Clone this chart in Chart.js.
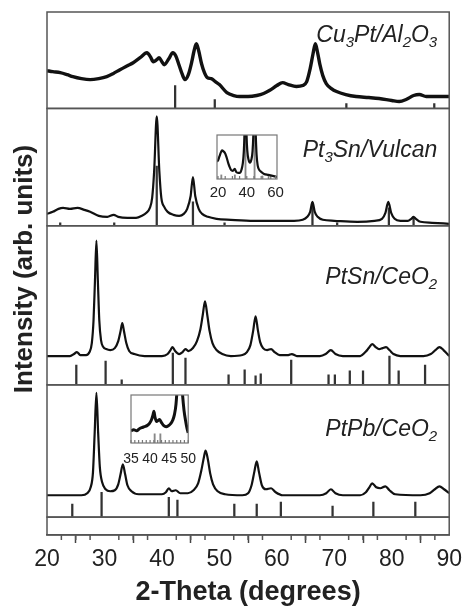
<!DOCTYPE html>
<html><head><meta charset="utf-8">
<script src="https://cdn.jsdelivr.net/npm/chart.js@4.4.1/dist/chart.umd.min.js"></script>
<style>
html,body{margin:0;padding:0;background:#fff;}
#wrap{position:relative;width:465px;height:609px;overflow:hidden;}
canvas{position:absolute;}
</style></head><body>
<div id="wrap">
<canvas id="main" width="465" height="609" style="left:0;top:0"></canvas>
<canvas id="ins1" width="100" height="92" style="left:195px;top:125px"></canvas>
<canvas id="ins2" width="95" height="95" style="left:110px;top:388px"></canvas>
</div>
<script>
// ---------------- DATA (2-Theta in degrees, intensity in arb. units) ----------------
const xTicks = [20, 30, 40, 50, 60, 70, 80, 90];

const cu3ptCurve = [[20,38],[21,37],[22.3,36],[23.5,34],[24.5,32],[26,30],[27.5,29],[29,30],[30.4,32],[31.5,35],[32.7,39],[34,43],[35,46],[36.2,51],[37.4,56],[38,52],[38.5,47],[39.1,49],[39.5,51],[40,47],[40.4,44],[41.2,50],[41.9,56],[42.4,53],[42.9,45],[43.5,35],[44,29],[44.6,34],[45.2,47],[45.6,58],[46,65],[46.4,58],[46.9,45],[47.4,36],[47.9,31],[48.6,30],[49.3,27],[50,24],[51.3,16],[52.5,13],[53.5,12],[55,12],[56.5,13],[57.7,15],[58.7,18],[60,23],[61,26],[62,24],[63.4,22],[64.5,23],[65.2,27],[65.8,40],[66.3,55],[66.7,65],[67.1,56],[67.5,44],[68,33],[68.6,25],[69.5,20],[70.4,17],[72,14],[73.8,12],[76,11],[77.8,10],[80,8],[81.3,7],[82.5,9],[83.8,13],[84.8,14],[86,12],[87,12],[88.5,12],[90,12]];
const cu3ptSticks = [[42.3,23],[49.2,9],[72.1,5],[87.4,5]];

const pt3snCurve = [[20,12],[21,14],[22,17],[22.8,18],[24,17],[25.3,18],[26.5,16],[27.5,14],[29,10],[30.5,9],[31.6,11],[32.4,9],[34,8],[35.5,8],[36.5,10],[37.3,13],[37.9,18],[38.3,28],[38.65,55],[39.1,110],[39.55,55],[39.9,28],[40.4,19],[41,14],[42,11],[43,10],[43.8,12],[44.4,17],[45.0,30],[45.4,49],[45.8,30],[46.4,17],[47,12],[48,9],[49.5,7],[52,6],[56,5],[60,5],[63,5],[64.5,6],[65.3,9],[65.8,14],[66.2,24],[66.6,14],[67.1,9],[68,6],[70,5],[74,4],[77,5],[78.3,7],[78.9,13],[79.4,24],[79.9,13],[80.5,7],[81.5,5],[82.8,5],[83.4,7],[83.8,9],[84.2,7],[85,4],[87,3],[90,2]];
const pt3snSticks = [[22.3,3],[31.7,3],[39.1,60],[45.4,24],[50.9,3],[66.2,20],[70.5,3],[79.5,18],[83.8,8]];

const ptsnCurve = [[20,29],[22,29],[24,29],[24.7,31],[25.2,33],[25.8,30],[26.8,30],[27.4,33],[27.8,42],[28.1,65],[28.35,105],[28.6,145],[28.85,105],[29.1,65],[29.4,45],[29.8,38],[30.3,36],[31,35],[31.8,37],[32.4,44],[32.8,54],[33.1,62],[33.4,54],[33.8,42],[34.3,34],[35.2,31],[37,29],[40,29],[41,31],[41.5,35],[41.85,38],[42.3,34],[43,31],[43.6,33],[44.1,36],[44.6,34],[45.4,37],[46.1,44],[46.7,56],[47.1,70],[47.5,84],[47.9,70],[48.3,54],[48.8,42],[49.5,35],[50.5,31],[52,29],[54,30],[54.8,33],[55.4,40],[55.9,55],[56.3,69],[56.7,55],[57.1,43],[57.6,37],[58.3,35],[59,36],[59.6,33],[60.5,30],[62,30],[62.6,31],[63.5,29],[67.5,29],[68.5,31],[69.4,35],[70.2,31],[71.5,29],[74.5,29],[75.4,33],[76,37],[76.6,41],[77.2,38],[77.8,36],[78.4,37],[79,38],[79.6,35],[80.3,31],[81.5,29],[85.5,29],[86.8,31],[87.6,35],[88.3,38],[89,35],[89.5,32],[90,29]];
const ptsnSticks = [[25.1,20],[30.2,24],[33.0,5],[41.9,32],[44.1,27],[51.6,10],[54.4,15],[56.3,9],[57.2,11],[62.5,25],[69.0,10],[70.1,10],[72.7,14],[75.0,14],[79.6,29],[81.2,14],[85.8,20]];

const ptpbCurve = [[20,22],[23,22],[26,22],[27,24],[27.6,30],[28,45],[28.3,85],[28.6,125],[28.9,85],[29.2,50],[29.6,35],[30.2,28],[31,26],[31.8,27],[32.4,33],[32.8,43],[33.2,53],[33.6,43],[34,32],[34.7,26],[36,23],[40,23],[40.7,25],[41.2,29],[41.7,26],[42.4,27],[43.2,24],[44.5,24],[45.5,27],[46.3,34],[46.9,48],[47.3,60],[47.6,67],[48,58],[48.4,44],[48.9,33],[49.7,26],[51,23],[54,22],[55,24],[55.6,32],[56.1,46],[56.5,56],[56.9,45],[57.4,32],[58.1,28],[59,29],[59.8,25],[61,22],[67.5,22],[68.6,24],[69.4,28],[70.2,24],[71.5,22],[74.5,22],[75.5,25],[76.1,30],[76.6,34],[77.3,30],[78.0,29],[78.9,31],[79.6,27],[80.6,23],[85,22],[86.6,24],[87.5,28],[88.3,31],[89.1,28],[90,24]];
const ptpbSticks = [[24.4,13],[29.5,25],[41.2,20],[42.7,17],[52.6,13],[56.5,13],[60.7,15],[69.7,11],[76.8,15],[84.1,15]];

// insets
const inset1Ticks = [20, 40, 60];
const inset1Curve = [[19.3,17],[20,18],[21,22],[22,26],[22.8,28],[23.8,27],[25,25],[26,21],[27,16],[28,12],[29,9],[30.3,8],[31.6,10],[32.6,7],[34,6],[35.3,6],[36.3,9],[37.2,15],[37.9,26],[38.4,45],[39.1,110],[39.8,45],[40.4,27],[41.2,19],[42.2,16],[43.2,19],[44,27],[44.6,45],[45.4,90],[46.2,45],[46.8,24],[47.6,13],[48.6,9],[50,7],[52,5],[55,4],[58,3],[61,2]];
const inset1Sticks = [[22.3,4],[31.7,4],[39.1,50],[45.4,50],[50.9,3],[56.5,3]];

const inset2Ticks = [35, 40, 45, 50];
const inset2Curve = [[35,12],[35.7,13],[36.5,12],[37.2,14],[37.8,15],[38.5,16],[39.2,17],[39.8,19],[40.4,23],[40.8,28],[41.0,31],[41.3,25],[41.7,21],[42.1,22],[42.5,23],[43,20],[43.6,17],[44.2,16],[44.8,17],[45.4,19],[45.9,22],[46.4,28],[46.8,38],[47.2,60],[47.6,90],[48.1,70],[48.5,48],[48.9,32],[49.3,22],[49.7,14],[50,10]];
const inset2Sticks = [[41.2,9],[42.7,9]];

// panel labels: [text, isSubscript]
const cu3ptLabel = [['Cu',0],['3',1],['Pt/Al',0],['2',1],['O',0],['3',1]];
const pt3snLabel = [['Pt',0],['3',1],['Sn/Vulcan',0]];
const ptsnLabel  = [['PtSn/CeO',0],['2',1]];
const ptpbLabel  = [['PtPb/CeO',0],['2',1]];

// ---------------- LAYOUT / STYLE ----------------
const FONT = '"Liberation Sans", Arial, Helvetica, sans-serif';
const panels = [
  {id:'y1', curve:cu3ptCurve, sticks:cu3ptSticks, label:cu3ptLabel, ymax:97,  lw:3.4, labelDy:30},
  {id:'y2', curve:pt3snCurve, sticks:pt3snSticks, label:pt3snLabel, ymax:118, lw:2.2, labelDy:49},
  {id:'y3', curve:ptsnCurve,  sticks:ptsnSticks,  label:ptsnLabel,  ymax:160, lw:2.2, labelDy:58},
  {id:'y4', curve:ptpbCurve,  sticks:ptpbSticks,  label:ptpbLabel,  ymax:133, lw:2.2, labelDy:51},
  {id:'y5', curve:null, sticks:null, label:null, ymax:18}
];

const toXY = arr => arr.map(([x, y]) => ({x, y}));

function drawLabel(ctx, segs, right, baseline) {
  const mainF = 'italic 23px ' + FONT, subF = 'italic 15px ' + FONT;
  const w = segs.map(([t, s]) => { ctx.font = s ? subF : mainF; return ctx.measureText(t).width; });
  let x = right - w.reduce((a, b) => a + b, 0);
  segs.forEach(([t, s], i) => { ctx.font = s ? subF : mainF; ctx.fillText(t, x, baseline + (s ? 5 : 0)); x += w[i]; });
}

const framePlugin = {
  id: 'frame',
  afterDraw(chart) {
    const {ctx, chartArea: ca, scales} = chart;
    ctx.save();
    ctx.strokeStyle = '#555'; ctx.lineWidth = 1.5;
    panels.forEach(p => { const s = scales[p.id]; ctx.strokeRect(ca.left, s.top, ca.right - ca.left, s.bottom - s.top); });
    // minor x ticks
    const xs = scales.x;
    ctx.beginPath();
    for (let v = 20; v <= 90; v += 2.5) {
      if (xTicks.includes(v)) continue;
      const px = xs.getPixelForValue(v);
      ctx.moveTo(px, ca.bottom); ctx.lineTo(px, ca.bottom + 5);
    }
    ctx.stroke();
    // panel labels
    ctx.fillStyle = '#222'; ctx.textAlign = 'left'; ctx.textBaseline = 'alphabetic';
    panels.forEach(p => { if (p.label) drawLabel(ctx, p.label, ca.right - 12, scales[p.id].top + p.labelDy); });
    // y title
    ctx.save();
    ctx.translate(32, 269); ctx.rotate(-Math.PI / 2);
    ctx.font = 'bold 26px ' + FONT; ctx.textAlign = 'center'; ctx.fillStyle = '#222';
    ctx.fillText('Intensity (arb. units)', 0, 0);
    ctx.restore();
    ctx.restore();
  }
};

const datasets = [];
const scales = {
  x: {
    type: 'linear', position: 'bottom', min: 20, max: 90, offset: false,
    afterBuildTicks: s => { s.ticks = xTicks.map(v => ({value: v})); },
    ticks: {autoSkip: false, maxRotation: 0, padding: 3, color: '#222', font: {family: FONT, size: 23}},
    grid: {drawOnChartArea: false, drawTicks: true, tickLength: 8, tickColor: '#444', tickWidth: 1.5},
    border: {display: true, color: '#555', width: 1.5},
    title: {display: true, text: '2-Theta (degrees)', color: '#222', font: {family: FONT, size: 27, weight: 'bold'}, padding: {top: 0, bottom: 0}}
  }
};
panels.forEach((p, i) => {
  scales[p.id] = {
    type: 'linear', position: 'left', stack: 'xrd', stackWeight: p.ymax, weight: panels.length - i,
    min: 0, max: p.ymax, display: true,
    ticks: {display: false}, grid: {display: false, drawTicks: false}, border: {display: false}
  };
  if (p.curve) {
    datasets.push({type: 'line', data: toXY(p.curve), xAxisID: 'x', yAxisID: p.id, borderColor: '#111', borderWidth: p.lw,
      pointRadius: 0, cubicInterpolationMode: 'monotone', fill: false, order: 0});
    datasets.push({type: 'bar', data: toXY(p.sticks), xAxisID: 'x', yAxisID: p.id, backgroundColor: '#333', borderWidth: 0,
      barThickness: 1.6, grouped: false, order: 1});
  }
});

new Chart(document.getElementById('main'), {
  type: 'line',
  data: {datasets},
  options: {
    responsive: false, animation: false, devicePixelRatio: 1, events: [],
    layout: {padding: {left: 47, right: 15, top: 12, bottom: 0}},
    plugins: {legend: {display: false}, tooltip: {enabled: false}},
    scales
  },
  plugins: [framePlugin]
});

function makeInset(id, curve, sticks, ticks, xmin, xmax, ymax, minorStep, fontSize, pad, tickPad, lw) {
  const insetPlugin = {
    id: 'insetFrame',
    afterDraw(chart) {
      const {ctx, chartArea: ca, scales: sc} = chart;
      ctx.save();
      ctx.strokeStyle = '#777'; ctx.lineWidth = 1.2;
      ctx.strokeRect(ca.left, ca.top, ca.right - ca.left, ca.bottom - ca.top);
      ctx.beginPath();
      for (let v = Math.ceil(xmin / minorStep) * minorStep; v <= xmax; v += minorStep) {
        const px = sc.x.getPixelForValue(v);
        ctx.moveTo(px, ca.bottom); ctx.lineTo(px, ca.bottom - 3);
      }
      ctx.stroke();
      ctx.restore();
    }
  };
  new Chart(document.getElementById(id), {
    type: 'line',
    data: {datasets: [
      {type: 'line', data: toXY(curve), borderColor: '#111', borderWidth: lw, pointRadius: 0, cubicInterpolationMode: 'monotone', fill: false, order: 0},
      {type: 'bar', data: toXY(sticks), backgroundColor: '#888', borderWidth: 0, barThickness: 1.2, grouped: false, order: 1}
    ]},
    options: {
      responsive: false, animation: false, devicePixelRatio: 1, events: [],
      layout: {padding: pad},
      plugins: {legend: {display: false}, tooltip: {enabled: false}},
      scales: {
        x: {type: 'linear', min: xmin, max: xmax, offset: false,
          afterBuildTicks: s => { s.ticks = ticks.map(v => ({value: v})); },
          ticks: {autoSkip: false, maxRotation: 0, padding: tickPad, color: '#222', font: {family: FONT, size: fontSize, lineHeight: 1}},
          grid: {display: false, drawTicks: false}, border: {display: false}},
        y: {type: 'linear', min: 0, max: ymax, display: false}
      }
    },
    plugins: [insetPlugin]
  });
}

makeInset('ins1', inset1Curve, inset1Sticks, inset1Ticks, 19.3, 61, 43, 5, 15, {left: 22, right: 18, top: 10, bottom: 11}, 6, 2.2);
makeInset('ins2', inset2Curve, inset2Sticks, inset2Ticks, 35, 50, 47, 1, 14, {left: 21, right: 13, top: 7, bottom: 8}, 9, 3);
</script>
</body></html>
